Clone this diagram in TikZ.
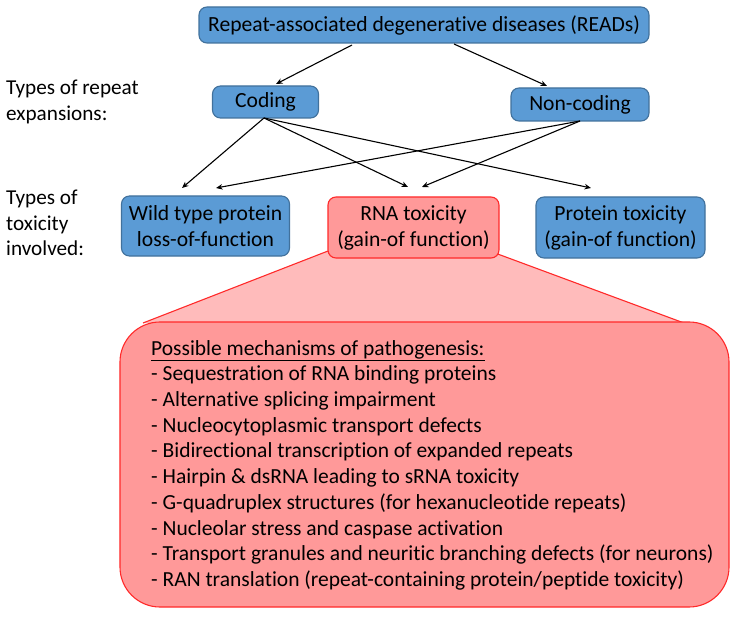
\documentclass[tikz,border=0pt]{standalone}
\usepackage{fontspec}
\setmainfont{Carlito}[Ligatures=NoCommon]
\usetikzlibrary{arrows.meta,calc}
\definecolor{bfill}{HTML}{5B9BD5}
\definecolor{bline}{HTML}{41719C}
\definecolor{pfill}{HTML}{FF9999}
\definecolor{plight}{HTML}{FFBBBB}
\definecolor{pline}{HTML}{FF2A2A}
\tikzset{
  bluebox/.style={draw=bline, fill=bfill, line width=1.1bp, rounded corners=8bp, inner sep=0pt, align=center, font=\fontsize{21.6bp}{26bp}\selectfont},
  pinkbox/.style={draw=pline, fill=pfill, line width=1.1bp, rounded corners=8bp, inner sep=0pt, align=center, font=\fontsize{21.6bp}{26bp}\selectfont},
  lbl/.style={inner sep=0pt, align=left, anchor=west, font=\fontsize{21.2bp}{25.2bp}\selectfont},
  arr/.style={-{Stealth[length=6.5bp,width=5.5bp]}, line width=1.1bp, black},
}
\begin{document}
\begin{tikzpicture}[x=1bp,y=-1bp]
\useasboundingbox (0,0) rectangle (737,617);
% callout trapezoid
\coordinate (tl) at (328,251);
\coordinate (tr) at (495,253);
\coordinate (bl) at (143,323);
\coordinate (br) at (684,323);
\fill[plight] (tl) -- (bl) -- (br) -- (tr) -- cycle;
\draw[pline, line width=1.1bp] (tl) -- (bl);
\draw[pline, line width=1.1bp] (tr) -- (br);
% big box
\node[draw=pline, fill=pfill, line width=1.1bp, rounded corners=40bp, minimum width=609bp, minimum height=285bp, inner sep=0pt] (big) at (424.5,464.5) {};
\node[inner sep=0pt, anchor=north west, align=left, font=\fontsize{21.5bp}{25.7bp}\selectfont] (mech) at (151,340) {\underline{Possible mechanisms of pathogenesis:}\\
- Sequestration of RNA binding proteins\\
- Alternative splicing impairment\\
- Nucleocytoplasmic transport defects\\
- Bidirectional transcription of expanded repeats\\
- Hairpin \& dsRNA leading to sRNA toxicity\\
- G-quadruplex structures (for hexanucleotide repeats)\\
- Nucleolar stress and caspase activation\\
- Transport granules and neuritic branching defects (for neurons)\\
- RAN translation (repeat-containing protein/peptide toxicity)};
% nodes
\node[bluebox, minimum width=450bp, minimum height=36bp] (reads) at (424,25) {Repeat-associated degenerative diseases (READs)};
\node[bluebox, minimum width=106bp, minimum height=32bp] (coding) at (265.5,102) {Coding};
\node[bluebox, minimum width=138bp, minimum height=33bp] (noncoding) at (580,104.5) {Non-coding};
\node[bluebox, minimum width=168bp, minimum height=60bp] (wild) at (205.5,226) {Wild type protein\\loss-of-function};
\node[pinkbox, minimum width=171bp, minimum height=61bp] (rna) at (413.5,227.5) {RNA toxicity\\(gain-of function)};
\node[bluebox, minimum width=169bp, minimum height=61bp] (prot) at (620.5,227.5) {Protein toxicity\\(gain-of function)};
% left labels
\node[lbl] (l1) at (6,102) {Types of repeat\\expansions:};
\node[lbl] (l2) at (6,223) {Types of\\toxicity\\involved:};
% arrow end points
\coordinate (r1) at (352,45);
\coordinate (r2) at (454,44);
\coordinate (cin) at (276,84);
\coordinate (nin) at (547,86);
\coordinate (cs) at (264,118);
\coordinate (ns) at (580,121);
\coordinate (w1) at (182,188);
\coordinate (w2) at (216,188);
\coordinate (rn1) at (408,187);
\coordinate (rn2) at (422,187);
\coordinate (p1) at (591,188);
\draw[arr] (r1) -- (cin);
\draw[arr] (r2) -- (nin);
\draw[arr] (cs) -- (w1);
\draw[arr] (cs) -- (rn1);
\draw[arr] (cs) -- (p1);
\draw[arr] (ns) -- (w2);
\draw[arr] (ns) -- (rn2);
\end{tikzpicture}
\end{document}
